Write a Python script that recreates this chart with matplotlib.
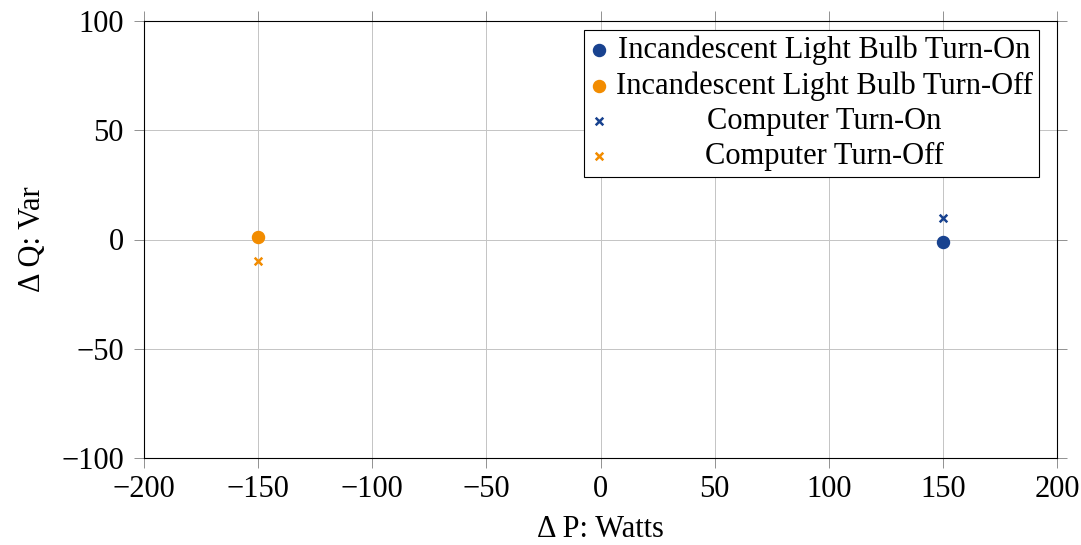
import matplotlib
matplotlib.use("Agg")
import matplotlib.pyplot as plt

plt.rcParams['font.family'] = ['Liberation Serif', 'DejaVu Serif']

bulb_on_p = [150]
bulb_on_q = [-1]
bulb_off_p = [-150]
bulb_off_q = [1]
comp_on_p = [150]
comp_on_q = [10]
comp_off_p = [-150]
comp_off_q = [-10]
labels = ["Incandescent Light Bulb Turn-On", "Incandescent Light Bulb Turn-Off",
          "Computer Turn-On", "Computer Turn-Off"]
xticks = [-200, -150, -100, -50, 0, 50, 100, 150, 200]
yticks = [-100, -50, 0, 50, 100]

blue = '#18428f'
orange = '#f28c00'
FS = 22

fig = plt.figure(figsize=(10.81, 5.45), dpi=100)
ax = fig.add_axes([144/1081, 1 - 458/545, (1057-144)/1081, (458-21)/545])

ax.scatter(bulb_on_p, bulb_on_q, s=75, color=blue, marker='o', label=labels[0], zorder=3)
ax.scatter(bulb_off_p, bulb_off_q, s=75, color=orange, marker='o', label=labels[1], zorder=3)
ax.scatter(comp_on_p, comp_on_q, s=30, color=blue, marker='x', linewidths=1.8, label=labels[2], zorder=3)
ax.scatter(comp_off_p, comp_off_q, s=30, color=orange, marker='x', linewidths=1.8, label=labels[3], zorder=3)

ax.set_xlim(-200, 200)
ax.set_ylim(-100, 100)
ax.set_xticks(xticks)
ax.set_yticks(yticks)
ax.set_xticklabels([f"\u2212{abs(v)}" if v < 0 else str(v) for v in xticks])
ax.set_yticklabels([f"\u2212{abs(v)}" if v < 0 else str(v) for v in yticks])
ax.tick_params(direction='out', top=True, right=True, labelsize=FS, length=7, width=0.6, color='#808080')
ax.tick_params(axis='x', pad=5)
ax.tick_params(axis='y', pad=7.5)
ax.grid(True, color='#c4c4c4', linewidth=0.7)
ax.set_axisbelow(True)
for sp in ax.spines.values():
    sp.set_linewidth(0.8)
ax.set_xlabel("\u0394 P: Watts", fontsize=FS, labelpad=8)
ax.set_ylabel("\u0394 Q: Var", fontsize=FS, labelpad=10)

leg = ax.legend(loc='upper right', bbox_to_anchor=(0.98, 0.98), fontsize=FS, frameon=True,
                fancybox=False, edgecolor='black', framealpha=1, handletextpad=0.25,
                handlelength=0.6, borderpad=0.2, labelspacing=0.2, borderaxespad=0,
                scatterpoints=1)
leg.get_frame().set_linewidth(0.8)

fig.canvas.draw()
r = fig.canvas.get_renderer()
texts = leg.get_texts()
widths = [t.get_window_extent(r).width for t in texts]
mw = max(widths)
for t, w in zip(texts, widths):
    t.set_x(t.get_position()[0] + (mw - w) / 2)

fig.savefig("out.png", dpi=100)
